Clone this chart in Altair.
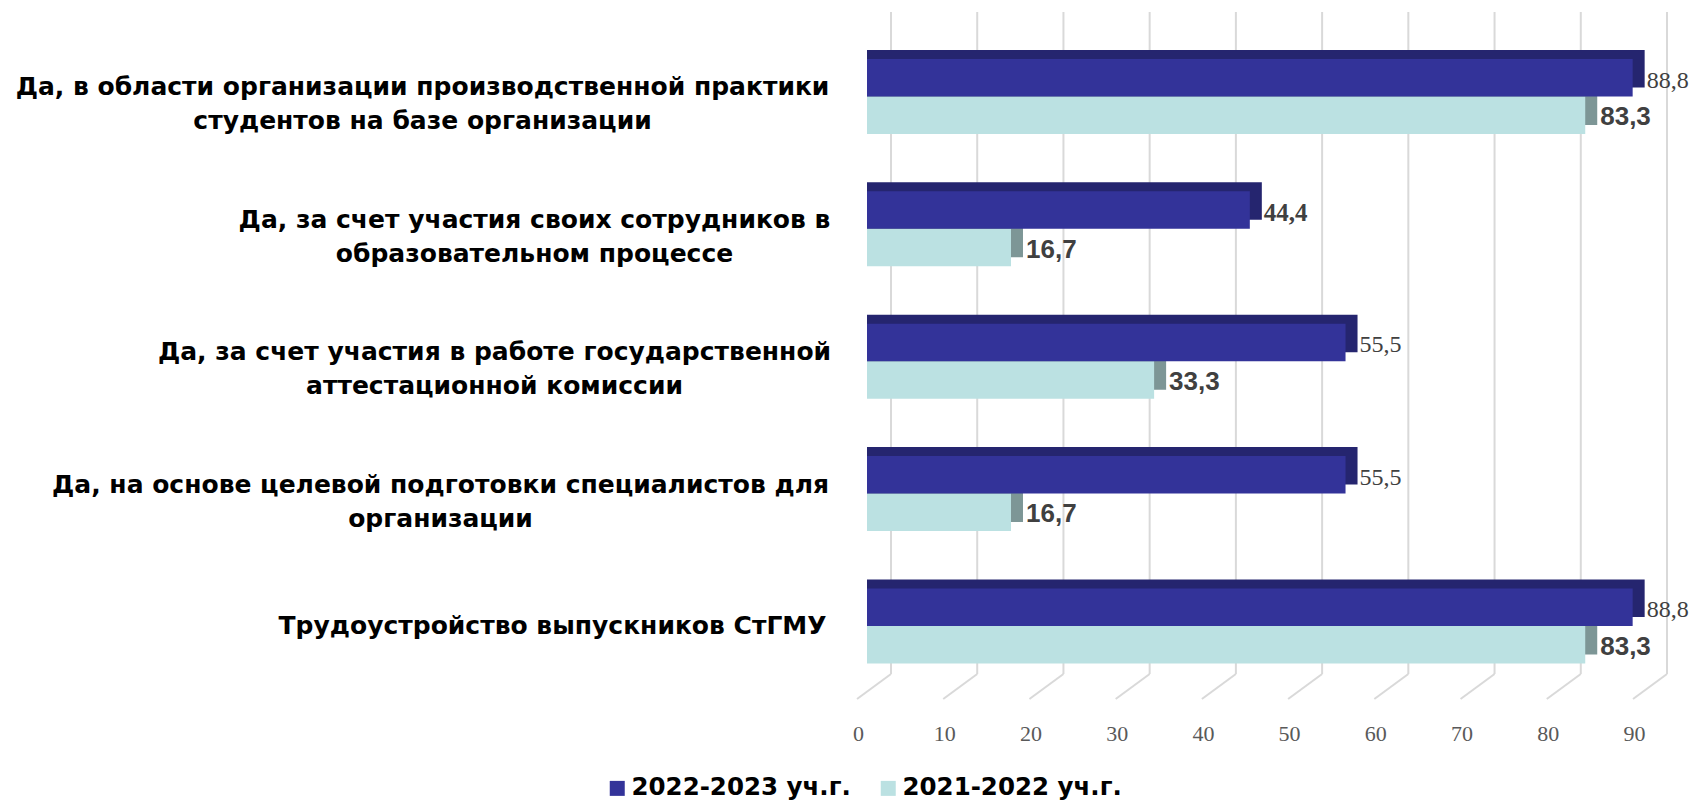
import json
import altair as alt
import pandas as pd

# ---------------- data ----------------
categories = [
    "Да, в области организации производственной практики\nстудентов на базе организации",
    "Да, за счет участия своих сотрудников в\nобразовательном процессе",
    "Да, за счет участия в работе государственной\nаттестационной комиссии",
    "Да, на основе целевой подготовки специалистов для\nорганизации",
    "Трудоустройство выпускников СтГМУ",
]
series = ["2022-2023 уч.г.", "2021-2022 уч.г."]
values_2022_2023 = [88.8, 44.4, 55.5, 55.5, 88.8]
values_2021_2022 = [83.3, 16.7, 33.3, 16.7, 83.3]
x_ticks = [0, 10, 20, 30, 40, 50, 60, 70, 80, 90]

# ---------------- style / layout ----------------
bold_value_label = [False, True, False, False, False]
label_centers = [422, 534, 494, 440, 552]   # horizontal centre of each label block (page px)
PLOT_LEFT = 867
W, H = 776, 698.4
BAR_H = 37.5
DX, DY = 12, 9          # depth of the 3D bars
GRID_DX = 24            # back wall offset
FLOOR_BACK, FLOOR_FRONT = 662, 687
GRID = "#D9D9D9"
DARK, DARK_DEPTH = "#333399", "#25256F"
LIGHT, LIGHT_DEPTH = "#BBE1E2", "#7D9696"
LINE_H = 34


def fmt(v):
    return f"{v:.1f}".replace(".", ",")


rows = []
for c, a, b, bw in zip(categories, values_2022_2023, values_2021_2022, bold_value_label):
    rows.append({"cat": c, "series": series[0], "value": a, "label": fmt(a), "bold": bw})
    rows.append({"cat": c, "series": series[1], "value": b, "label": fmt(b), "bold": False})
df = pd.DataFrame(rows)
tick_df = pd.DataFrame({"t": x_ticks})

x_scale = alt.Scale(domain=[0, 90], nice=False, zero=True)
y_scale = alt.Scale(domain=categories, paddingInner=0.4335, paddingOuter=0.354)
color_scale = alt.Scale(domain=series, range=[DARK, LIGHT])

x_axis = alt.Axis(
    values=x_ticks, title=None, grid=False, domain=False, ticks=False, tickSize=0,
    labelOffset=-9, labelPadding=22.6, labelBaseline="middle", labelFlush=False,
    labelFont="Liberation Serif", labelFontSize=22, labelColor="#595959",
)

pad_conditions = [
    {"test": f"datum.value === {json.dumps(c, ensure_ascii=False)}", "value": PLOT_LEFT - lc}
    for c, lc in zip(categories, label_centers)
]
y_axis = alt.Axis(
    title=None, domain=False, ticks=False, tickSize=0, grid=False,
    labelExpr="split(datum.label, '\\n')",
    labelFont="DejaVu Sans", labelFontWeight="bold", labelFontSize=25,
    labelColor="#000000", labelLineHeight=LINE_H, labelLimit=1000,
    labelAlign="center", labelBaseline="middle",
    labelPadding={"condition": pad_conditions, "value": 300},
    labelOffset={"condition": {"test": "indexof(datum.value, '\\n') >= 0",
                               "value": 8 - LINE_H / 2}, "value": 0},
)

X = alt.X("value:Q", scale=x_scale, axis=x_axis, stack=None)
Y = alt.Y("cat:N", scale=y_scale, sort=categories, axis=y_axis)

base = alt.Chart(df)
dark = base.transform_filter(alt.datum.series == series[0])
light = base.transform_filter(alt.datum.series == series[1])

grid = alt.Chart(tick_df).mark_rule(color=GRID, strokeWidth=2, xOffset=GRID_DX).encode(
    x=alt.X("t:Q", scale=x_scale, axis=x_axis),
    y=alt.value(0), y2=alt.value(FLOOR_BACK),
)
floor = alt.Chart(tick_df).mark_rule(color=GRID, strokeWidth=2, xOffset=GRID_DX, x2Offset=-10).encode(
    x=alt.X("t:Q", scale=x_scale, axis=x_axis), x2="t:Q",
    y=alt.value(FLOOR_BACK), y2=alt.value(FLOOR_FRONT),
)

light_back = light.mark_bar(color=LIGHT_DEPTH, height=BAR_H, xOffset=DX, x2Offset=DX,
                            yOffset=BAR_H / 2 - DY).encode(x=X, y=Y)
dark_back = dark.mark_bar(color=DARK_DEPTH, height=BAR_H, xOffset=DX, x2Offset=DX,
                          yOffset=-BAR_H / 2 - DY).encode(x=X, y=Y)
light_front = light.mark_bar(height=BAR_H, yOffset=BAR_H / 2).encode(x=X, y=Y, color=alt.value(LIGHT))
dark_front = dark.mark_bar(height=BAR_H, yOffset=-BAR_H / 2).encode(
    x=X, y=Y,
    color=alt.Color("series:N", scale=color_scale, legend=alt.Legend(
        title=None, orient="none", legendX=-262, legendY=764, direction="horizontal",
        symbolType="square", symbolSize=225, symbolStrokeWidth=0, symbolOpacity=1,
        labelFont="DejaVu Sans", labelFontWeight="bold", labelFontSize=24.5, labelColor="#000000",
        labelOffset=2, columnPadding=25, padding=0, labelLimit=400,
    )),
)

dark_text = dark.transform_filter(~alt.datum.bold).mark_text(
    align="left", baseline="middle", dx=14, dy=-BAR_H / 2 + 3,
    font="Liberation Serif", fontSize=24, color="#404040",
).encode(x=X, y=Y, text="label:N")
dark_text_bold = dark.transform_filter(alt.datum.bold).mark_text(
    align="left", baseline="middle", dx=14, dy=-BAR_H / 2 + 3,
    font="Liberation Serif", fontWeight="bold", fontSize=25, color="#404040",
).encode(x=X, y=Y, text="label:N")
light_text = light.mark_text(
    align="left", baseline="middle", dx=15, dy=BAR_H / 2 + 2,
    font="Liberation Sans", fontWeight="bold", fontSize=26, color="#404040",
).encode(x=X, y=Y, text="label:N")

chart = alt.layer(
    grid, floor, light_back, dark_back, light_front, dark_front,
    dark_text, dark_text_bold, light_text,
).properties(
    width=W, height=H,
    padding={"left": PLOT_LEFT - 8, "top": 4, "right": 47, "bottom": 89.6},
    autosize=alt.AutoSizeParams(type="none"),
    background="#FFFFFF",
).configure_view(stroke=None)

chart.save("out.html", embed_options={"renderer": "svg", "actions": False})
